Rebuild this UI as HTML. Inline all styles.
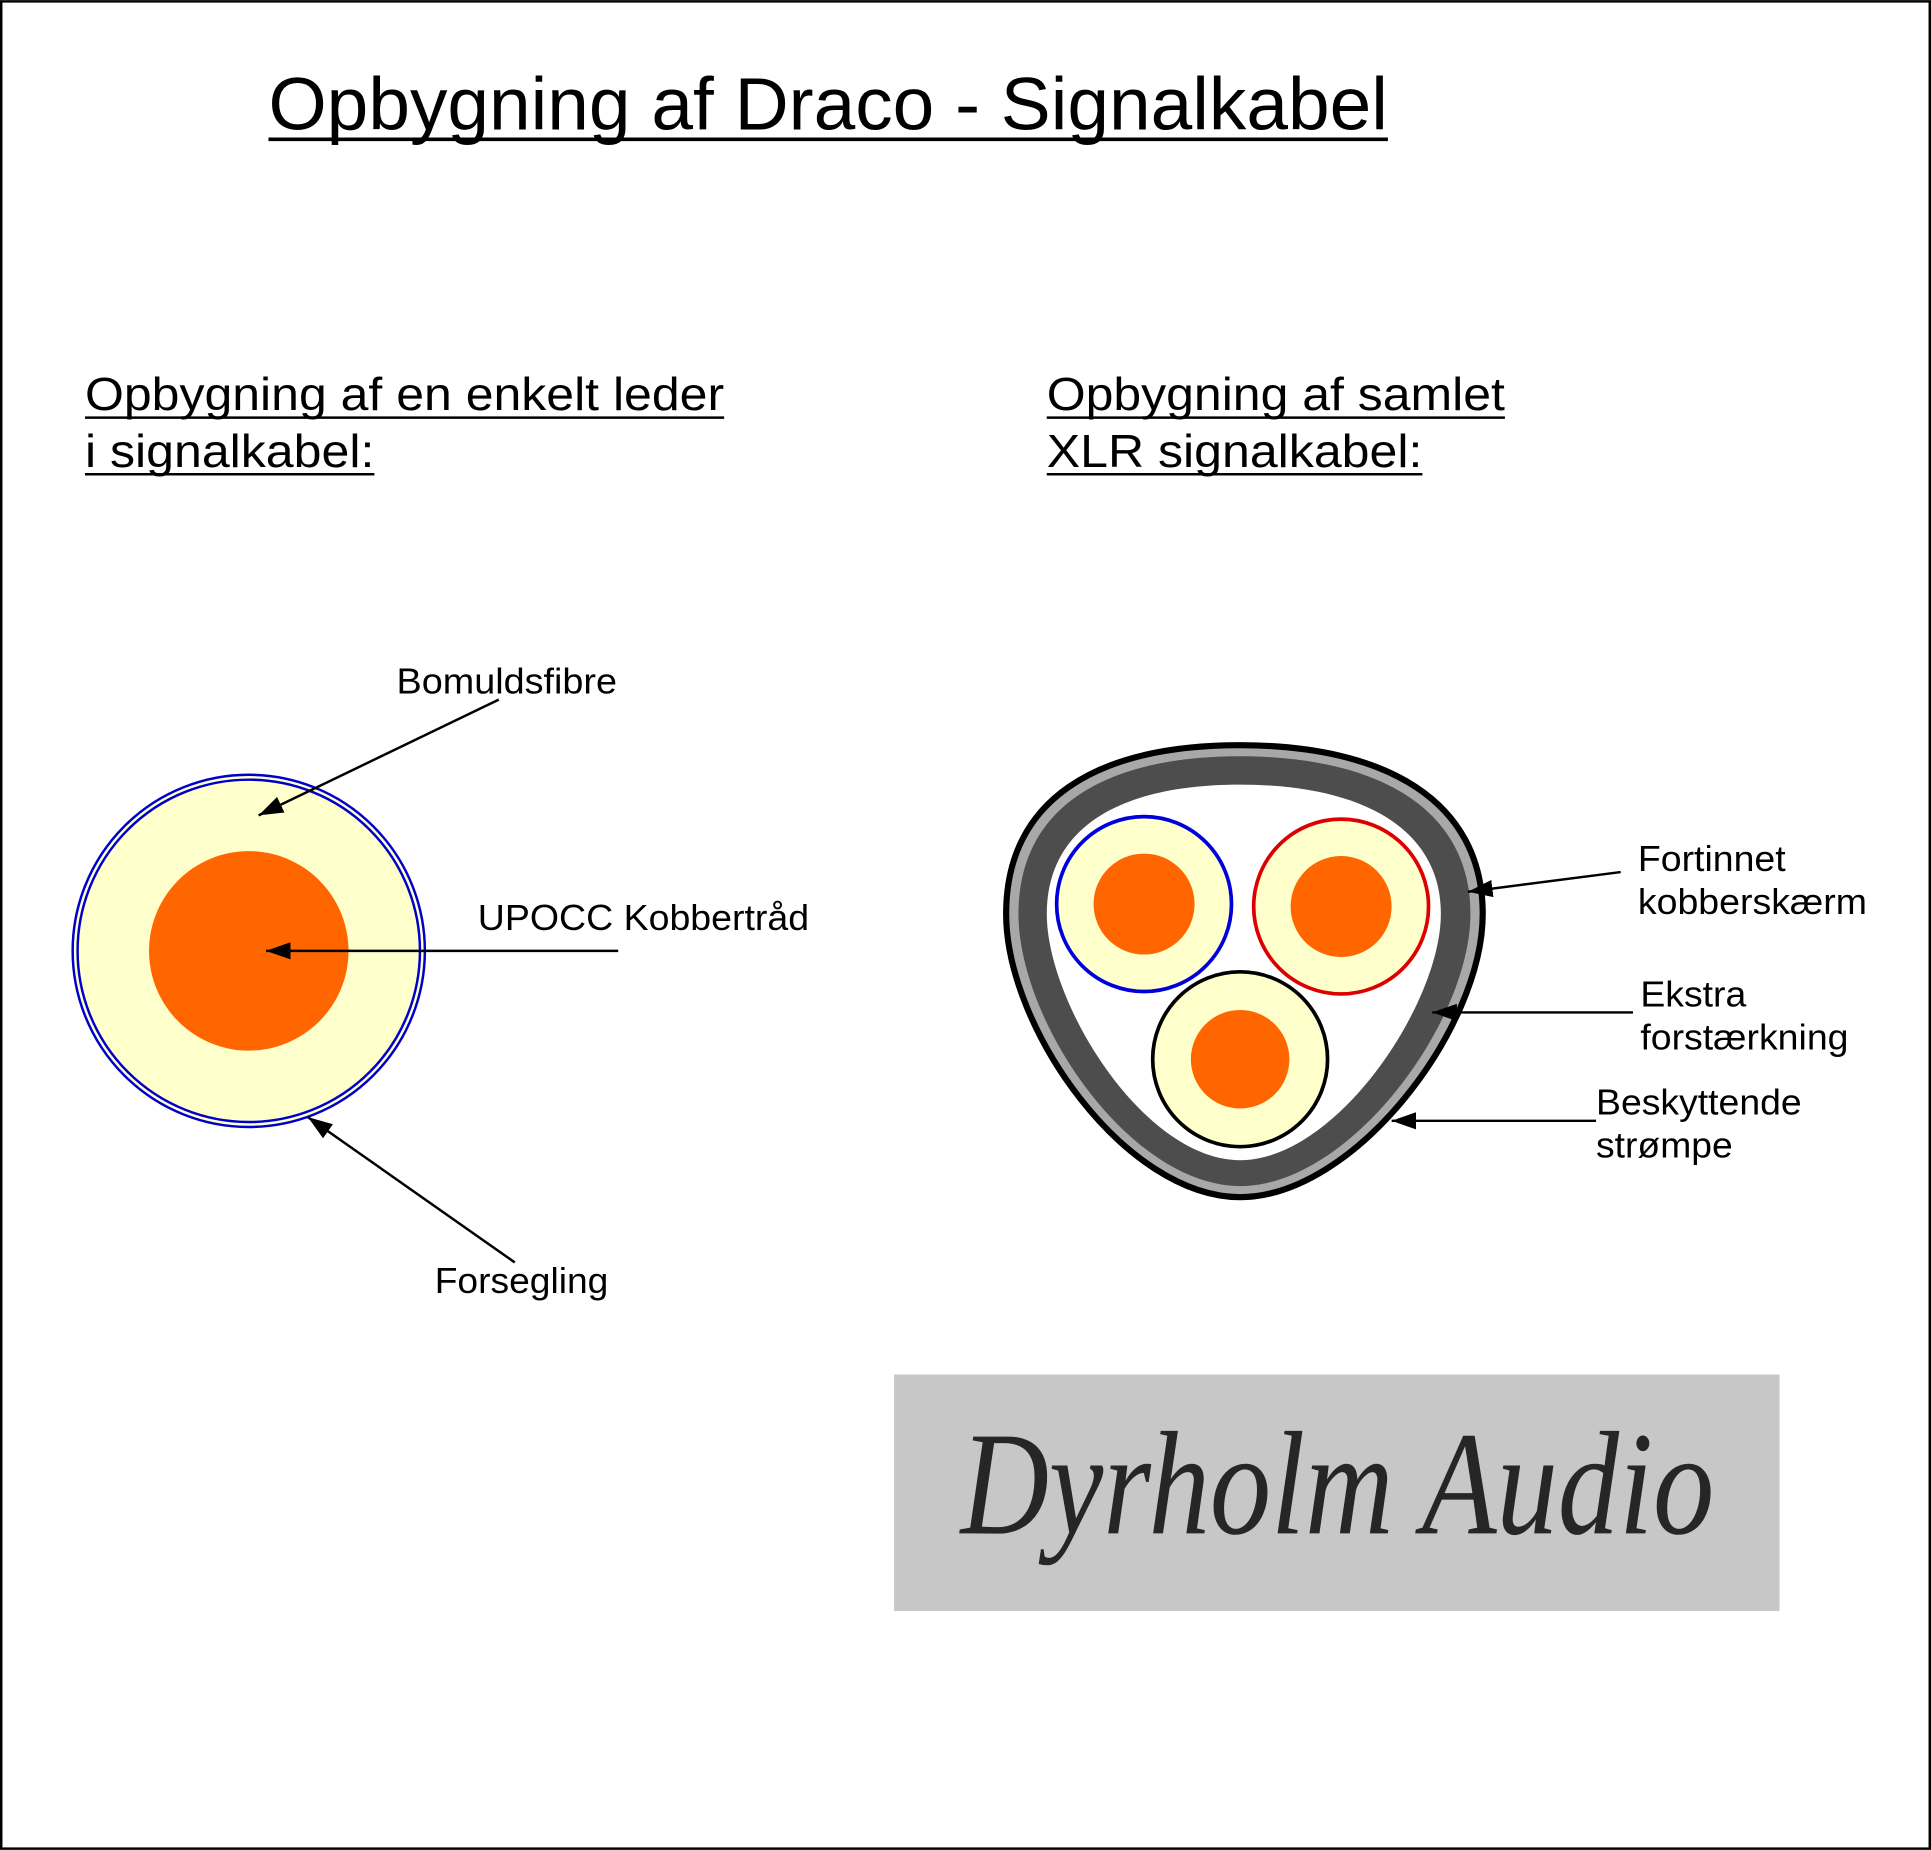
<!DOCTYPE html>
<html><head><meta charset="utf-8"><style>
html,body{margin:0;padding:0;background:#fff;}
svg{display:block;}
text{font-family:"Liberation Sans",sans-serif;fill:#000;}
</style></head><body>
<svg width="1931" height="1850" viewBox="0 0 1568 1502" xmlns="http://www.w3.org/2000/svg">
<defs>
<marker id="a2" viewBox="0 0 20 14" refX="20" refY="7" markerWidth="20" markerHeight="14" orient="auto" markerUnits="userSpaceOnUse">
<path d="M0,0 L20,7 L0,14 Z" fill="#000"/>
</marker>
</defs>
<rect x="1" y="1" width="1566" height="1500" fill="#fff" stroke="#000" stroke-width="2"/>
<text x="218" y="105" font-size="60" textLength="909" lengthAdjust="spacingAndGlyphs">Opbygning af Draco - Signalkabel</text>
<line x1="218" y1="113" x2="1127" y2="113" stroke="#000" stroke-width="3"/>
<text x="69" y="333" font-size="38" textLength="519" lengthAdjust="spacingAndGlyphs">Opbygning af en enkelt leder</text>
<line x1="69" y1="339" x2="588" y2="339" stroke="#000" stroke-width="2"/>
<text x="69" y="379" font-size="38" textLength="235" lengthAdjust="spacingAndGlyphs">i signalkabel:</text>
<line x1="69" y1="385" x2="304" y2="385" stroke="#000" stroke-width="2"/>
<text x="850" y="333" font-size="38" textLength="372" lengthAdjust="spacingAndGlyphs">Opbygning af samlet</text>
<line x1="850" y1="339" x2="1222" y2="339" stroke="#000" stroke-width="2"/>
<text x="850" y="379" font-size="38" textLength="305" lengthAdjust="spacingAndGlyphs">XLR signalkabel:</text>
<line x1="850" y1="385" x2="1155" y2="385" stroke="#000" stroke-width="2"/>

<circle cx="202" cy="772" r="143" fill="#ffffcc" stroke="#0000cc" stroke-width="2"/>
<circle cx="202" cy="772" r="139" fill="none" stroke="#0000cc" stroke-width="2"/>
<circle cx="202" cy="772" r="81" fill="#ff6600"/>
<text x="322" y="563" font-size="29" textLength="179" lengthAdjust="spacingAndGlyphs">Bomuldsfibre</text>
<line x1="405" y1="568" x2="210" y2="662" stroke="#000" stroke-width="2" marker-end="url(#a2)"/>
<text x="388" y="755" font-size="29" textLength="269" lengthAdjust="spacingAndGlyphs">UPOCC Kobbertråd</text>
<line x1="502" y1="772" x2="216" y2="772" stroke="#000" stroke-width="2" marker-end="url(#a2)"/>
<text x="353" y="1050" font-size="29" textLength="141" lengthAdjust="spacingAndGlyphs">Forsegling</text>
<line x1="418" y1="1025" x2="250" y2="907" stroke="#000" stroke-width="2" marker-end="url(#a2)"/>

<path d="M1007,605 C1125,605 1204,650 1204,742 C1204,835 1100,972 1007,972 C914,972 817,835 817,742 C817,650 889,605 1007,605 Z" fill="#a8a8a8" stroke="#000" stroke-width="5"/>
<path d="M1007,614 C1118,614 1194,656 1194,742 C1194,830 1096,963 1007,963 C918,963 827,830 827,742 C827,656 896,614 1007,614 Z" fill="#4d4d4d"/>
<path d="M1007,637 C1105,637 1170,672 1170,742 C1170,815 1085,942 1007,942 C929,942 850,815 850,742 C850,672 909,637 1007,637 Z" fill="#fff"/>
<circle cx="929" cy="734" r="71" fill="#ffffcc" stroke="#0000dd" stroke-width="3"/>
<circle cx="929" cy="734" r="41" fill="#ff6600"/>
<circle cx="1089" cy="736" r="71" fill="#ffffcc" stroke="#dd0000" stroke-width="3"/>
<circle cx="1089" cy="736" r="41" fill="#ff6600"/>
<circle cx="1007" cy="860" r="71" fill="#ffffcc" stroke="#000" stroke-width="3"/>
<circle cx="1007" cy="860" r="40" fill="#ff6600"/>
<text x="1330" y="707" font-size="29" textLength="120" lengthAdjust="spacingAndGlyphs">Fortinnet</text>
<text x="1330" y="742" font-size="29" textLength="186" lengthAdjust="spacingAndGlyphs">kobberskærm</text>
<line x1="1316" y1="708" x2="1192" y2="724" stroke="#000" stroke-width="2" marker-end="url(#a2)"/>
<text x="1332" y="817" font-size="29" textLength="86" lengthAdjust="spacingAndGlyphs">Ekstra</text>
<text x="1332" y="852" font-size="29" textLength="169" lengthAdjust="spacingAndGlyphs">forstærkning</text>
<line x1="1326" y1="822" x2="1163" y2="822" stroke="#000" stroke-width="2" marker-end="url(#a2)"/>
<text x="1296" y="905" font-size="29" textLength="167" lengthAdjust="spacingAndGlyphs">Beskyttende</text>
<text x="1296" y="940" font-size="29" textLength="111" lengthAdjust="spacingAndGlyphs">strømpe</text>
<line x1="1296" y1="910" x2="1130" y2="910" stroke="#000" stroke-width="2" marker-end="url(#a2)"/>

<rect x="726" y="1116" width="719" height="192" fill="#c6c7c6"/>
<text x="780" y="1245" font-size="120" font-style="italic" textLength="612" lengthAdjust="spacingAndGlyphs" style="font-family:'Liberation Serif',serif;fill:#262626">Dyrholm Audio</text>
</svg>
</body></html>
